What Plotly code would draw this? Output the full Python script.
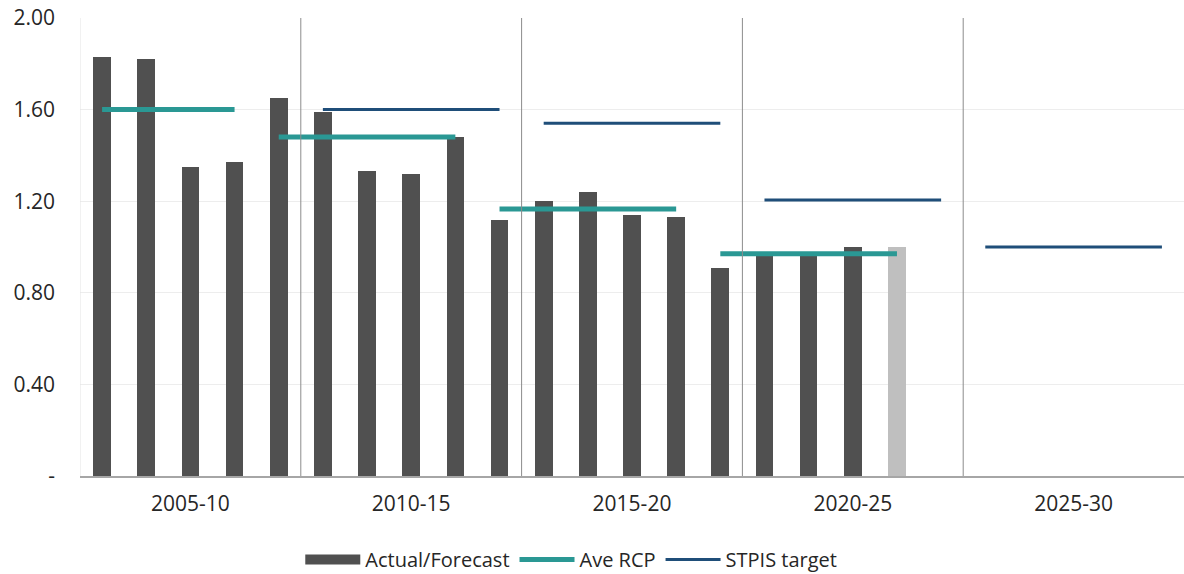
import plotly.graph_objects as go

# Financial years, five per regulatory period
years = [f"{y}-{str(y + 1)[-2:]}" for y in range(2005, 2030)]
periods = ["2005-10", "2010-15", "2015-20", "2020-25", "2025-30"]

# Actual results (2005-06 to 2022-23) and forecast (2023-24)
actual = [1.83, 1.82, 1.35, 1.37, 1.65,
          1.59, 1.33, 1.32, 1.48, 1.12,
          1.20, 1.24, 1.14, 1.13, 0.91,
          0.96, 0.96, 1.00]
forecast = [1.00]

# Average RCP value for each year it applies to
ave_rcp = ([1.60] * 4 + [1.48] * 5 + [1.166] * 5 + [0.97] * 5
           + [None] * 6)
# STPIS target for each year
stpis = [None] * 5 + [1.60] * 5 + [1.54] * 5 + [1.205] * 5 + [1.00] * 5

BAR = "#505050"
BAR_FC = "#BFBFBF"
TEAL = "#2A9894"
NAVY = "#1F4E79"


def segments(values):
    """Split a per-year series into runs of equal, non-missing values."""
    runs, cur = [], []
    for i, v in enumerate(values):
        if v is None or (cur and values[cur[-1]] != v):
            if cur:
                runs.append(cur)
            cur = []
        if v is not None:
            cur.append(i)
    if cur:
        runs.append(cur)
    return runs


fig = go.Figure()

colors = [BAR] * len(actual) + [BAR_FC] * len(forecast)
bar_vals = actual + forecast
fig.add_trace(go.Bar(
    x=years[:len(bar_vals)], y=bar_vals, name="Actual/Forecast",
    marker=dict(color=colors, line=dict(width=0)), width=0.4,
    showlegend=False,
))
# legend entry drawn as a wide solid swatch
fig.add_trace(go.Scatter(x=[None], y=[None], name="Actual/Forecast",
                         mode="lines", line=dict(color=BAR, width=14),
                         showlegend=True))

for k, run in enumerate(segments(ave_rcp)):
    fig.add_trace(go.Scatter(
        x=[years[i] for i in run], y=[ave_rcp[i] for i in run],
        mode="lines", line=dict(color=TEAL, width=5),
        name="Ave RCP", legendgroup="rcp", showlegend=(k == 0),
    ))

for k, run in enumerate(segments(stpis)):
    fig.add_trace(go.Scatter(
        x=[years[i] for i in run], y=[stpis[i] for i in run],
        mode="lines", line=dict(color=NAVY, width=3),
        name="STPIS target", legendgroup="stpis", showlegend=(k == 0),
    ))

# period dividers
shapes = [dict(type="line", xref="x", yref="paper", x0=-0.5, x1=-0.5,
               y0=0, y1=1, line=dict(color="#E3E3E3", width=1))]
for p in range(1, len(periods)):
    xb = p * 5 - 0.5
    shapes.append(dict(type="line", xref="x", yref="paper", x0=xb, x1=xb,
                       y0=0, y1=1, line=dict(color="#8C8C8C", width=1)))

fig.update_layout(
    width=1184, height=574,
    margin=dict(l=80, r=0, t=18, b=98, autoexpand=False),
    paper_bgcolor="white", plot_bgcolor="white",
    font=dict(family="Open Sans, Liberation Sans, sans-serif", size=21,
              color="#262626"),
    shapes=shapes,
    bargap=0,
    legend=dict(orientation="h", x=0.445, xanchor="center", y=-0.14,
                yanchor="top", font=dict(size=20), itemwidth=55,
                traceorder="normal"),
    xaxis=dict(
        type="category", categoryorder="array", categoryarray=years,
        range=[-0.5, len(years) - 0.5],
        tickmode="array", tickvals=[years[i * 5 + 2] for i in range(5)],
        ticktext=periods, ticks="", showgrid=False,
        showline=True, linecolor="#A6A6A6", linewidth=1.5,
        ticklabelstandoff=8, tickfont=dict(size=21),
    ),
    yaxis=dict(
        range=[0, 2.0], tickmode="array",
        tickvals=[0, 0.4, 0.8, 1.2, 1.6, 2.0],
        ticktext=["-", "0.40", "0.80", "1.20", "1.60", "2.00"],
        showgrid=True, gridcolor="#EDEDED", gridwidth=1,
        zeroline=False, showline=False, ticks="",
        ticklabelstandoff=24, tickfont=dict(size=21),
    ),
)

fig.write_html("out.html")
